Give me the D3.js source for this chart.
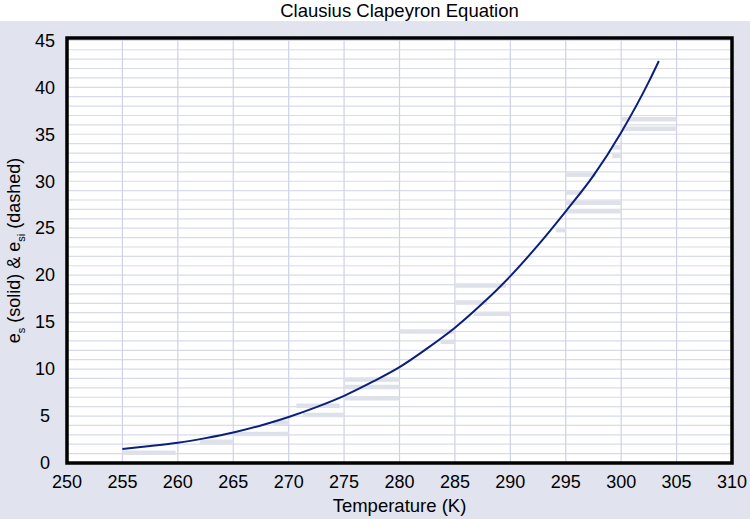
<!DOCTYPE html>
<html>
<head>
<meta charset="utf-8">
<script src="https://d3js.org/d3.v7.min.js"></script>
<style>
    body { margin: 0; background: #ffffff; }
    svg { display: block; font-family: "Liberation Sans", Arial, sans-serif; }
</style>
</head>
<body>
<svg id="drawing_region"></svg>
<script>
// saturation vapour pressure
const tempK    = [255, 257.5, 260, 262.5, 265, 267.5, 270, 272.5, 275, 277.5, 280,
                  282.5, 285, 287.5, 290, 292.5, 295, 297.5, 300, 302.5, 303.4];
const esValues = [1.5, 1.8, 2.15, 2.65, 3.25, 4.0, 4.9, 5.95, 7.15, 8.6, 10.2,
                  12.2, 14.4, 17.0, 19.9, 23.2, 26.8, 30.6, 35.2, 40.6, 42.8];

// faint e_si (dashed) pieces: start K, end K, value
const esiStart = [255, 262, 265, 268.6, 270.7, 271.3, 275, 275, 275, 280, 283.7,
                  285, 285, 286.7, 294.1, 295, 295, 295, 295, 299.2, 299.2, 300, 300];
const esiEnd   = [259.8, 265, 270, 270, 274.6, 275, 280, 280, 280, 285, 285,
                  289.6, 287.9, 290, 295, 297.7, 296.5, 300, 300, 300, 300, 305, 305];
const esiValue = [1.1, 2.25, 3.1, 4.3, 6.1, 5.1, 8.9, 8.1, 6.9, 14.0, 12.9,
                  18.9, 17.1, 15.9, 24.8, 30.7, 28.8, 27.7, 26.8, 33.6, 32.7, 36.6, 35.6];

const xTickLabels = [250, 255, 260, 265, 270, 275, 280, 285, 290, 295, 300, 305, 310];
const yTickLabels = [0, 5, 10, 15, 20, 25, 30, 35, 40, 45];

var config = {
    parent: '#drawing_region',
    width: 750,
    height: 519,
    margin: {top:38, right:18, bottom:56, left:67}
};

class LineChart {

    constructor( config ) {
        this.config = config;
        this.curve = tempK.map( (t, i) => ({ t: t, v: esValues[i] }) );
        this.pieces = esiStart.map( (t0, i) => ({ t0: t0, t1: esiEnd[i], v: esiValue[i] }) );
        this.init();
    }

    init() {
        let self = this;

        self.svg = d3.select( self.config.parent )
            .attr('width', self.config.width)
            .attr('height', self.config.height);

        // page background: white strip for the title, grey below
        self.svg.append('rect')
            .attr('x', 0).attr('y', 21)
            .attr('width', self.config.width)
            .attr('height', self.config.height - 21)
            .attr('fill', '#e1e4ee');

        self.chart = self.svg.append('g')
            .attr('transform', `translate(${self.config.margin.left}, ${self.config.margin.top})`);

        self.inner_width = self.config.width - self.config.margin.left - self.config.margin.right;
        self.inner_height = self.config.height - self.config.margin.top - self.config.margin.bottom;

        self.xscale = d3.scaleLinear()
            .domain([250, 310])
            .range([0, self.inner_width]);

        self.yscale = d3.scaleLinear()
            .domain([0, 45.25])
            .range([self.inner_height, 0]);

        self.chart.append('rect')
            .attr('width', self.inner_width)
            .attr('height', self.inner_height)
            .attr('fill', '#ffffff');

        self.svg.append('text')
            .attr('x', self.config.margin.left + self.inner_width / 2)
            .attr('y', 17)
            .attr('text-anchor', 'middle')
            .style('font-size', '18.5px')
            .text('Clausius Clapeyron Equation');

        self.svg.append('text')
            .attr('x', self.config.margin.left + self.inner_width / 2)
            .attr('y', 512)
            .attr('text-anchor', 'middle')
            .style('font-size', '18.5px')
            .text('Temperature (K)');

        const ylab = self.svg.append('text')
            .attr('transform', `translate(20, ${self.config.margin.top + self.inner_height / 2}) rotate(-90)`)
            .attr('text-anchor', 'middle')
            .style('font-size', '18px');
        ylab.append('tspan').text('e');
        ylab.append('tspan').attr('dy', 5).style('font-size', '11px').text('s');
        ylab.append('tspan').attr('dy', -5).text(' (solid) & e');
        ylab.append('tspan').attr('dy', 5).style('font-size', '11px').text('si');
        ylab.append('tspan').attr('dy', -5).text(' (dashed)');
    }

    update() {
        this.render();
    }

    render() {
        let self = this;

        // grid
        self.chart.append('g')
            .selectAll('line')
            .data( self.yscale.ticks(45).filter(v => v > 0 && v < 45.25) )
            .join('line')
            .attr('x1', 0).attr('x2', self.inner_width)
            .attr('y1', d => self.yscale(d)).attr('y2', d => self.yscale(d))
            .attr('stroke', '#d9dce8')
            .attr('stroke-width', 1.2);

        self.chart.append('g')
            .selectAll('line')
            .data( xTickLabels.slice(1, -1) )
            .join('line')
            .attr('x1', d => self.xscale(d)).attr('x2', d => self.xscale(d))
            .attr('y1', 0).attr('y2', self.inner_height)
            .attr('stroke', '#cfd1ec')
            .attr('stroke-width', 1.2);

        // e_si pieces
        self.chart.append('g')
            .selectAll('line')
            .data( self.pieces )
            .join('line')
            .attr('x1', d => self.xscale(d.t0)).attr('x2', d => self.xscale(d.t1))
            .attr('y1', d => self.yscale(d.v)).attr('y2', d => self.yscale(d.v))
            .attr('stroke', '#dfe1ea')
            .attr('stroke-width', 4.5);

        // e_s curve
        const line = d3.line()
            .x( d => self.xscale(d.t) )
            .y( d => self.yscale(d.v) )
            .curve( d3.curveMonotoneX );

        self.chart.append('path')
            .datum( self.curve )
            .attr('d', line)
            .attr('fill', 'none')
            .attr('stroke', '#0b1f7c')
            .attr('stroke-width', 2);

        // frame
        self.chart.append('rect')
            .attr('width', self.inner_width)
            .attr('height', self.inner_height)
            .attr('fill', 'none')
            .attr('stroke', '#000000')
            .attr('stroke-width', 3.5);

        // tick labels
        self.chart.append('g')
            .selectAll('text')
            .data( xTickLabels )
            .join('text')
            .attr('x', d => self.xscale(d))
            .attr('y', self.inner_height + 25)
            .attr('text-anchor', 'middle')
            .style('font-size', '18px')
            .text(d => d);

        self.chart.append('g')
            .selectAll('text')
            .data( yTickLabels )
            .join('text')
            .attr('x', -22)
            .attr('y', d => self.yscale(d))
            .attr('dy', '0.35em')
            .attr('text-anchor', 'middle')
            .style('font-size', '18px')
            .text(d => d);
    }
}

const chart = new LineChart( config );
chart.update();
</script>
</body>
</html>
